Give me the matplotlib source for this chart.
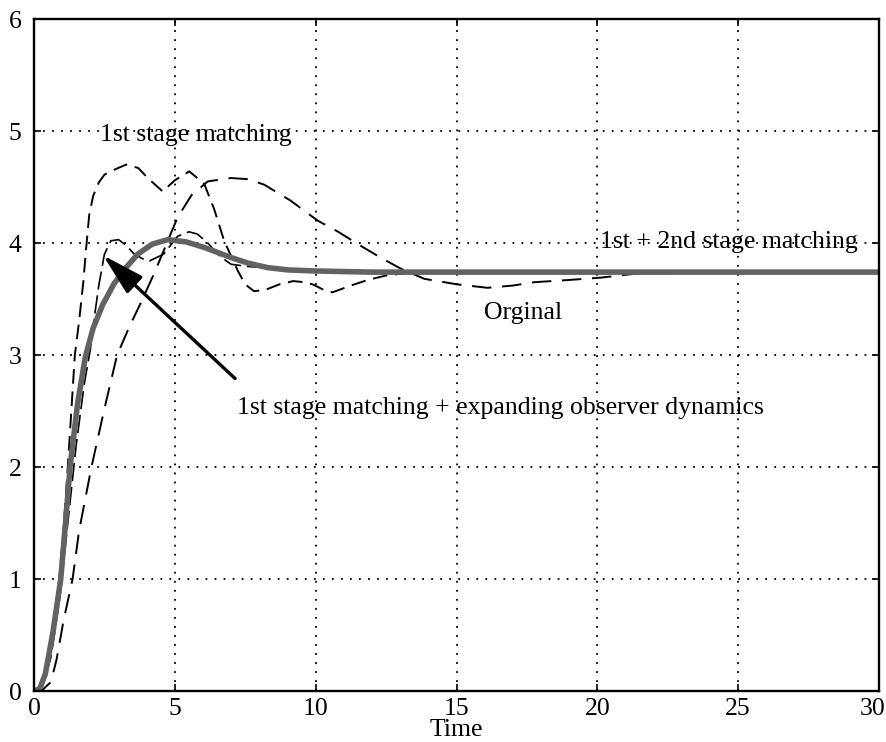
import matplotlib
matplotlib.use('Agg')
import matplotlib.pyplot as plt
import matplotlib.transforms as mtransforms

# 1st + 2nd stage matching (thick gray)
t_thick = [0, 0.2, 0.4, 0.67, 0.95, 1.1, 1.28, 1.55, 1.82, 2.1, 2.44, 2.85, 3.3, 3.68,
           4.2, 4.75, 5.4, 6.05, 7.0, 7.6, 8.3, 9.0, 10.0, 12.0, 30]
y_thick = [0, 0.02, 0.15, 0.52, 1.0, 1.44, 2.0, 2.57, 2.98, 3.24, 3.45, 3.64, 3.79, 3.9,
           3.99, 4.03, 4.01, 3.96, 3.87, 3.82, 3.78, 3.76, 3.75, 3.74, 3.74]

# 1st stage matching
t_first = [0, 0.2, 0.4, 0.65, 0.9, 1.05, 1.2, 1.45, 1.6, 1.75, 1.85, 1.96, 2.1, 2.3, 2.5,
           2.9, 3.27, 3.7, 4.04, 4.57, 5.0, 5.51, 6.04, 6.4, 6.75, 7.24, 7.5, 7.81, 8.2,
           8.7, 9.2, 9.6, 9.9, 10.3, 10.6, 11.25, 11.85, 12.5, 13.5, 30]
y_first = [0, 0.03, 0.17, 0.55, 1.0, 1.45, 2.0, 3.0, 3.3, 3.65, 3.95, 4.25, 4.42, 4.54, 4.61,
           4.66, 4.70, 4.67, 4.58, 4.46, 4.56, 4.64, 4.53, 4.3, 4.02, 3.75, 3.63, 3.57, 3.58,
           3.63, 3.66, 3.65, 3.63, 3.58, 3.56, 3.62, 3.67, 3.71, 3.74, 3.74]

# Orginal
t_orig = [0, 0.3, 0.6, 0.8, 1.05, 1.37, 1.6, 2.04, 2.5, 2.95, 3.4, 3.8, 4.27, 4.75, 5.1,
          5.6, 6.17, 6.99, 7.6, 8.18, 9.1, 10.07, 10.8, 11.5, 12.3, 13.03, 13.86, 15.04,
          16.1, 17.0, 17.76, 19.0, 20.1, 21.5, 30]
y_orig = [0, 0.01, 0.08, 0.28, 0.63, 1.0, 1.43, 2.0, 2.52, 3.0, 3.26, 3.47, 3.73, 4.02, 4.23,
          4.43, 4.55, 4.58, 4.57, 4.52, 4.38, 4.20, 4.10, 3.99, 3.87, 3.77, 3.68, 3.63,
          3.60, 3.62, 3.65, 3.67, 3.69, 3.73, 3.74]

# 1st stage matching + expanding observer dynamics
t_obs = [0, 0.3, 0.6, 0.9, 1.2, 1.5, 1.79, 2.0, 2.15, 2.3, 2.5, 2.73, 3.0, 3.27, 3.56,
         3.85, 4.1, 4.6, 5.1, 5.5, 5.8, 6.17, 6.6, 7.0, 7.6, 8.2, 9.0, 10.0, 30]
y_obs = [0, 0.04, 0.3, 0.8, 1.5, 2.2, 2.75, 3.05, 3.35, 3.62, 3.9, 4.02, 4.03, 3.98, 3.9,
         3.86, 3.84, 3.9, 4.06, 4.10, 4.08, 4.0, 3.88, 3.81, 3.79, 3.78, 3.76, 3.75, 3.74]

plt.rcParams['font.family'] = ['Liberation Serif', 'DejaVu Serif']
fs = 18.5

fig = plt.figure(figsize=(8.86, 7.42), dpi=100)
ax = fig.add_axes([34/886, 1 - 691/742, (879-34)/886, (691-19)/742])

ax.plot(t_orig, y_orig, color='k', lw=1.4, linestyle=(0, (10, 5.5)))
ax.plot(t_first, y_first, color='k', lw=1.4, linestyle=(0, (7.5, 4)))
ax.plot(t_obs, y_obs, color='k', lw=1.2, linestyle=(0, (11, 3.5)))
ax.plot(t_thick, y_thick, color='#626262', lw=4.0, solid_capstyle='round')

ax.set_xlim(0, 30)
ax.set_ylim(0, 6)
ax.set_xticks([0, 5, 10, 15, 20, 25, 30])
ax.set_yticks([0, 1, 2, 3, 4, 5, 6])
ax.grid(True, color='k', linestyle=(0, (1, 4)), lw=1.3)
ax.tick_params(direction='in', length=5, width=1.2, labelsize=fs, top=True, right=True)
ax.tick_params(axis='x', pad=5)
ax.tick_params(axis='y', pad=9)
for s in ax.spines.values():
    s.set_linewidth(1.7)
ax.set_xlabel('Time', fontsize=fs, labelpad=-1)

# nudge the last x tick label so it stays inside the picture
last = ax.get_xticklabels()[-1]
last.set_transform(last.get_transform() + mtransforms.ScaledTranslation(-6/100, 0, fig.dpi_scale_trans))

# labels
ax.text(2.34, 4.96, '1st stage matching', fontsize=fs, va='center', ha='left')
ax.text(20.1, 4.01, '1st + 2nd stage matching', fontsize=fs, va='center', ha='left')
ax.text(17.36, 3.375, 'Orginal', fontsize=fs, va='center', ha='center')
ax.text(7.2, 2.53, '1st stage matching + expanding observer dynamics', fontsize=fs,
        va='center', ha='left')
ax.annotate('', xy=(2.45, 3.89), xytext=(7.14, 2.79),
            arrowprops=dict(arrowstyle='-|>,head_length=1.3,head_width=0.35', color='k',
                            lw=2.4, mutation_scale=20, shrinkA=0, shrinkB=0))

fig.savefig('out.png', dpi=100)
